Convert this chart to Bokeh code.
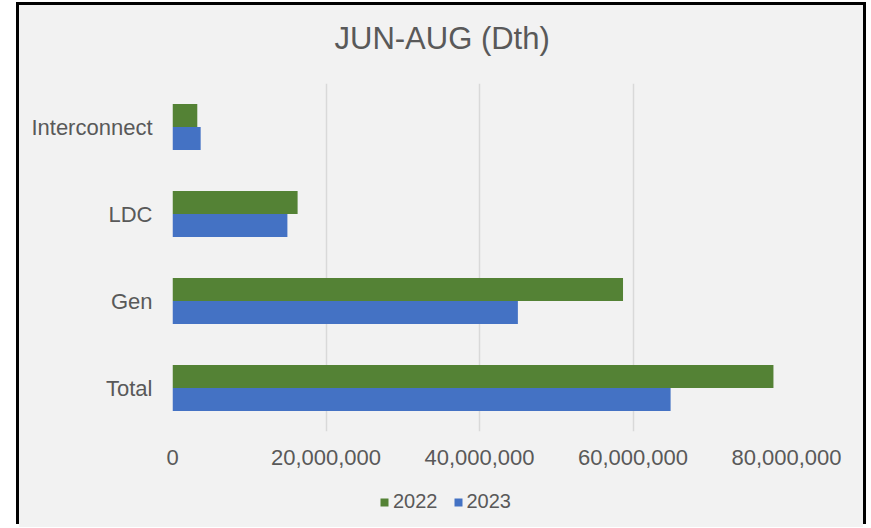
from bokeh.plotting import figure
from bokeh.layouts import column
from bokeh.models import (Range1d, FactorRange, FixedTicker, NumeralTickFormatter, Legend,
                          LegendItem, ColumnDataSource, Title)
from bokeh.transform import dodge
from bokeh.embed import file_html
from bokeh.resources import INLINE

categories = ["Total", "Gen", "LDC", "Interconnect"]
values_2022 = [78300000, 58700000, 16300000, 3230000]
values_2023 = [64900000, 45000000, 14970000, 3670000]
series_names = ["2022", "2023"]
series_colors = ["#548235", "#4472C4"]
x_ticks = [0, 20000000, 40000000, 60000000, 80000000]
title_text = "JUN-AUG (Dth)"

FONT = "Liberation Sans"
TXT = "#595959"
BG = "#F2F2F2"

src = ColumnDataSource(dict(cat=categories, v22=values_2022, v23=values_2023))

p = figure(width=844, height=472, output_backend="svg", toolbar_location=None,
           y_range=FactorRange(*categories, range_padding=0), x_range=Range1d(0, 80000000),
           min_border_left=153, min_border_right=77, min_border_top=78, min_border_bottom=46,
           background_fill_color=BG, border_fill_color=BG, outline_line_color=None)

p.title.text = title_text
p.title.text_font = FONT
p.title.text_font_size = "31px"
p.title.text_font_style = "normal"
p.title.text_color = TXT
p.title.align = "left"
p.title.offset = 162
p.title.standoff = 0
# thin blank spacer between the frame and the title
p.add_layout(Title(text=" ", text_font_size="1px", standoff=25), "above")

p.hbar(y=dodge("cat", 0.132, range=p.y_range), right="v22", left=0, height=0.264,
       source=src, fill_color=series_colors[0], line_color=None)
p.hbar(y=dodge("cat", -0.132, range=p.y_range), right="v23", left=0, height=0.264,
       source=src, fill_color=series_colors[1], line_color=None)

p.xaxis.ticker = FixedTicker(ticks=x_ticks)
p.xaxis.formatter = NumeralTickFormatter(format="0,0")
for ax in (p.xaxis[0], p.yaxis[0]):
    ax.axis_line_color = None
    ax.major_tick_line_color = None
    ax.minor_tick_line_color = None
    ax.major_tick_out = 0
    ax.major_tick_in = 0
    ax.major_label_text_font = FONT
    ax.major_label_text_font_size = "22px"
    ax.major_label_text_color = TXT
p.xaxis.major_label_standoff = 18
p.yaxis.major_label_standoff = 20

p.xgrid.grid_line_color = "#D9D9D9"
p.xgrid.grid_line_width = 1.5
p.ygrid.grid_line_color = None

# legend strip below the chart
pl = figure(width=844, height=50, output_backend="svg", toolbar_location=None,
            x_axis_location=None, y_axis_location=None,
            x_range=Range1d(0, 1), y_range=Range1d(0, 1),
            min_border_left=0, min_border_right=0, min_border_top=0, min_border_bottom=0,
            background_fill_color=BG, border_fill_color=BG, outline_line_color=None)
pl.grid.visible = False
items = []
for name, col in zip(series_names, series_colors):
    # key swatch only: its one point lies outside the visible range
    r = pl.rect(x=[-5], y=[-5], width=0.1, height=0.1, fill_color=col, line_color=None)
    items.append(LegendItem(label=name, renderers=[r]))
legend = Legend(items=items, orientation="horizontal", location=(207, 14),
                glyph_width=10, glyph_height=10, label_standoff=4, spacing=15,
                padding=0, margin=0, border_line_color=None, background_fill_alpha=0,
                label_text_font=FONT, label_text_font_size="20px", label_text_color=TXT)
pl.add_layout(legend, "center")

layout = column(p, pl, spacing=0,
                styles={"box-shadow": "-3px -3px 0 0 black, 3px -3px 0 0 black",
                        "background-color": BG,
                        "margin-left": "19px", "margin-top": "5px"})

open("out.html", "w").write(file_html(layout, INLINE))
